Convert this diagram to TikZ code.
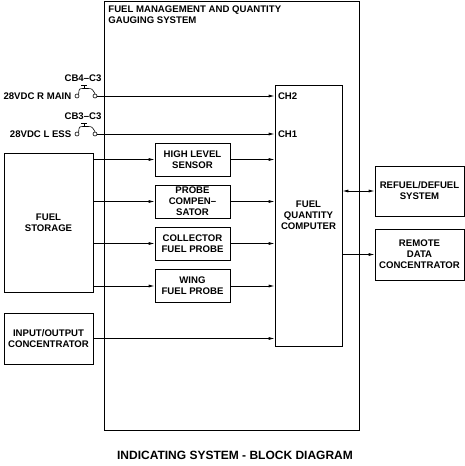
\documentclass[tikz,border=0pt]{standalone}
\usepackage{fontspec}
\setmainfont{Liberation Sans}
\usetikzlibrary{arrows.meta}
\newcommand\blockfont{\fontsize{9.6}{11}\selectfont\bfseries}
\tikzset{
  block/.style={draw, align=center, font=\blockfont, inner sep=0pt},
  lbl/.style={font=\blockfont, inner sep=0pt},
  sig/.style={-{Latex[length=6pt,width=3pt]}},
  sigboth/.style={{Latex[length=6pt,width=3pt]}-{Latex[length=6pt,width=3pt]}},
  contact/.style={draw, circle, line width=0.6pt, minimum size=4pt, inner sep=0pt}
}
\begin{document}
\begin{tikzpicture}[x=1pt, y=-1pt, line width=0.8pt]
\useasboundingbox (0,0) rectangle (465,466);

% system boundary
\node[block, minimum width=255pt, minimum height=429pt] (fmqgs) at (231.5,215.5) {};
\node[lbl, anchor=north west, align=left] (fmqgs-title) at (108,5)
    {FUEL MANAGEMENT AND QUANTITY\\GAUGING SYSTEM};

\node[block, minimum width=67pt, minimum height=261pt] (fqc) at (308.5,215.5)
    {FUEL\\QUANTITY\\COMPUTER};

\node[block, minimum width=75pt, minimum height=33pt] (hls)    at (192.5,159.5) {HIGH LEVEL\\SENSOR};
\node[block, minimum width=75pt, minimum height=33pt] (probe)  at (192.5,201.5) {PROBE\\COMPEN--\\SATOR};
\node[block, minimum width=75pt, minimum height=33pt] (coll)   at (192.5,243.5) {COLLECTOR\\FUEL PROBE};
\node[block, minimum width=75pt, minimum height=33pt] (wing)   at (192.5,286)   {WING\\FUEL PROBE};

\node[block, minimum width=89pt, minimum height=139pt] (storage) at (48.5,222.5) {FUEL\\STORAGE};
\node[block, minimum width=89pt, minimum height=51pt]  (ioc)     at (48.5,338.5) {INPUT/OUTPUT\\CONCENTRATOR};

\node[block, minimum width=89pt, minimum height=50pt] (refuel) at (419.5,191)   {REFUEL/DEFUEL\\SYSTEM};
\node[block, minimum width=89pt, minimum height=51pt] (rdc)    at (419.5,254.5) {REMOTE\\DATA\\CONCENTRATOR};

% breakers
\foreach \cb/\yy/\cblabel/\src/\ch in {cbfour/96/CB4--C3/{28VDC R MAIN}/CH2,
                                      cbthree/134/CB3--C3/{28VDC L ESS}/CH1} {
  \node[contact] (\cb-in)  at (77,\yy) {};
  \node[contact] (\cb-out) at (95,\yy) {};
  \node[lbl, anchor=east] (\cb-src) at ([xshift=-3pt]\cb-in.west) {\src};
  \node[lbl] (\cb-name) at (83,\yy-18) {\cblabel};
  \coordinate (\cb-top) at (84,\yy-7.5);
  \draw[line width=0.6pt] (\cb-in.north east) .. controls (79,\yy-7.5) .. (\cb-top)
      -- (87,\yy-7.5) .. controls (92,\yy-7.5) .. (\cb-out.north);
  \draw[line width=0.6pt] (\cb-top) -- ++(0,-3.5) ++(-3,0) -- ++(6,0);
  \draw[sig] (\cb-out) -- (\cb-out -| fqc.west);
  \node[lbl, anchor=west] (\cb-ch) at ([xshift=3pt]fqc.west |- \cb-out) {\ch};
}

\foreach \n in {hls, probe, coll, wing} {
  \draw[sig] (storage.east |- \n) -- (\n);
  \draw[sig] (\n) -- (\n -| fqc.west);
}
\draw[sig] (ioc) -- (ioc -| fqc.west);
\draw[sigboth] (fqc.east |- refuel) -- (refuel);
\draw[sig] (fqc.east |- rdc) -- (rdc);

\node[font=\fontsize{12}{14}\selectfont\bfseries] (caption) at (235,455)
    {INDICATING SYSTEM - BLOCK DIAGRAM};
\end{tikzpicture}
\end{document}
